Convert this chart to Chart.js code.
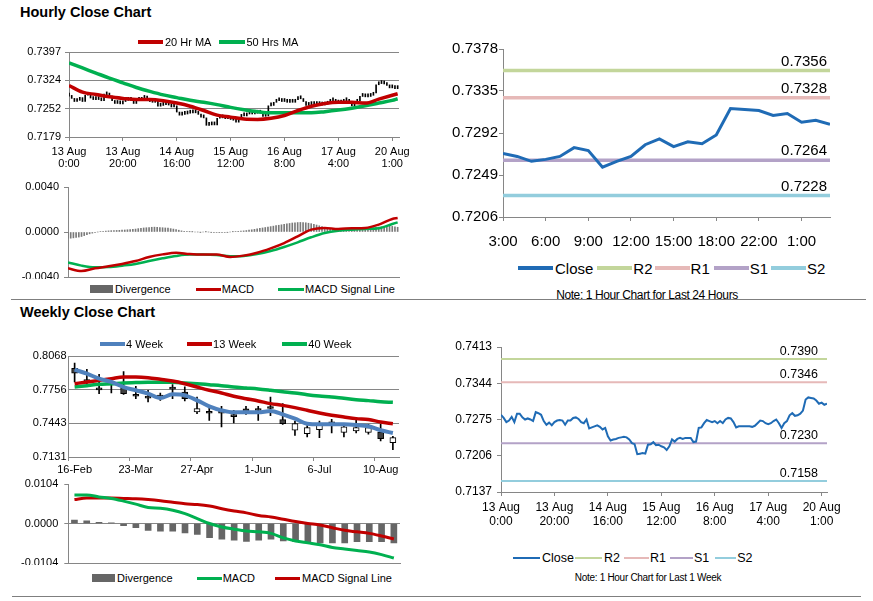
<!DOCTYPE html>
<html><head><meta charset="utf-8">
<script src="https://cdn.jsdelivr.net/npm/chart.js@4.4.0/dist/chart.umd.min.js"></script>
<style>
body{margin:0;width:873px;height:601px;background:#fff;position:relative;overflow:hidden;font-family:"Liberation Sans",Arial,sans-serif;color:#000;}
canvas{position:absolute;}
.title{position:absolute;font-weight:bold;font-size:14.5px;line-height:17px;white-space:nowrap;}
.sep{position:absolute;height:1px;background:#7f7f7f;}
.legend{position:absolute;display:flex;align-items:center;white-space:nowrap;height:16px;}
.note{position:absolute;white-space:nowrap;transform:translateX(-50%);}
</style>
</head><body>
<div class="title" style="left:20px;top:4px">Hourly Close Chart</div>
<div class="title" style="left:20px;top:304px">Weekly Close Chart</div>
<div class="sep" style="left:11px;top:299px;width:855px"></div>
<div class="sep" style="left:12px;top:596px;width:849px"></div>
<div class="note" style="left:647px;top:288px;font-size:12px;letter-spacing:-0.4px">Note: 1 Hour Chart for Last 24 Hours</div>
<div class="note" style="left:648px;top:572px;font-size:10px;letter-spacing:-0.3px">Note: 1 Hour Chart for Last 1 Week</div>
<script>
// ---------------- DATA ----------------
// hourly tick labels (13 Aug 0:00 ... 20 Aug 1:00), every 20 hours
const hourTickPos = [0, 20, 40, 60, 80, 100, 120];
const hourTickLabels = [["13 Aug","0:00"],["13 Aug","20:00"],["14 Aug","16:00"],["15 Aug","12:00"],["16 Aug","8:00"],["17 Aug","4:00"],["20 Aug","1:00"]];

// hourly close, last 1 week (123 hours)
const hourlyClose = [
0.7284,0.7278,0.7270,0.7273,0.7280,0.7270,0.7286,0.7286,0.7279,0.7275,
0.7277,0.7275,0.7272,0.7289,0.7287,0.7284,0.7272,0.7265,0.7269,0.7264,
0.7270,0.7273,0.7274,0.7273,0.7265,0.7273,0.7273,0.7278,0.7279,0.7276,
0.7270,0.7268,0.7275,0.7258,0.7260,0.7262,0.7264,0.7261,0.7256,0.7259,
0.7243,0.7235,0.7237,0.7238,0.7240,0.7241,0.7242,0.7241,0.7237,0.7230,
0.7228,0.7209,0.7210,0.7211,0.7210,0.7227,0.7228,0.7232,0.7226,0.7227,
0.7224,0.7222,0.7217,0.7224,0.7237,0.7233,0.7238,0.7240,0.7238,0.7240,
0.7240,0.7240,0.7232,0.7233,0.7259,0.7260,0.7268,0.7274,0.7272,0.7270,
0.7272,0.7268,0.7272,0.7268,0.7275,0.7278,0.7277,0.7270,0.7260,0.7262,
0.7262,0.7262,0.7262,0.7262,0.7261,0.7263,0.7268,0.7273,0.7272,0.7268,
0.7266,0.7268,0.7272,0.7275,0.7268,0.7259,0.7268,0.7272,0.7283,0.7287,
0.7282,0.7283,0.7286,0.7292,0.7313,0.7317,0.7316,0.7315,0.7311,0.7305,
0.7307,0.7303,0.7305];

// moving averages / MACD read at these hour indices
const maIdx = [0,5,10,15,20,25,30,35,40,45,50,55,60,65,70,75,80,85,90,95,100,105,110,115,120,122];
const ma20 = [0.7311,0.7294,0.7288,0.7282,0.7278,0.7275,0.7275,0.7272,0.7266,0.7258,0.7247,0.7235,0.7230,0.7225,0.7224,0.7227,0.7234,0.7247,0.7258,0.7265,0.7268,0.7268,0.7266,0.7276,0.7286,0.7290];
const ma50 = [0.7369,0.7356,0.7343,0.7330,0.7318,0.7306,0.7296,0.7287,0.7280,0.7273,0.7268,0.7262,0.7255,0.7249,0.7244,0.7241,0.7241,0.7241,0.7241,0.7244,0.7248,0.7253,0.7259,0.7266,0.7273,0.7277];
const macdH = [-0.00323,-0.00347,-0.00323,-0.00305,-0.00284,-0.00258,-0.00222,-0.00199,-0.00184,-0.00196,-0.00201,-0.00201,-0.00222,-0.00210,-0.00184,-0.00145,-0.00098,-0.00039,0.00021,0.00036,0.00027,0.00033,0.00036,0.00065,0.00116,0.00124];
const signalH = [-0.00270,-0.00299,-0.00314,-0.00311,-0.00299,-0.00284,-0.00258,-0.00234,-0.00213,-0.00201,-0.00201,-0.00204,-0.00216,-0.00213,-0.00196,-0.00169,-0.00133,-0.00092,-0.00047,-0.00009,0.00012,0.00021,0.00027,0.00033,0.00071,0.00086];
const divH = [
-0.00055,-0.00055,-0.00052,-0.00048,-0.00045,-0.00040,-0.00032,-0.00024,-0.00016,-0.00010,
-0.00005,0.00000,0.00004,0.00006,0.00008,0.00010,0.00012,0.00013,0.00014,0.00015,
0.00016,0.00018,0.00020,0.00022,0.00024,0.00026,0.00030,0.00033,0.00036,0.00038,
0.00040,0.00042,0.00043,0.00042,0.00040,0.00038,0.00036,0.00034,0.00030,0.00026,
0.00022,0.00016,0.00010,0.00006,0.00003,0.00002,0.00001,0.00000,0.00000,-0.00001,
0.00000,0.00001,0.00000,-0.00002,-0.00004,-0.00005,-0.00006,-0.00005,-0.00004,-0.00002,
0.00000,0.00002,0.00004,0.00006,0.00008,0.00010,0.00013,0.00016,0.00020,0.00024,
0.00028,0.00032,0.00036,0.00040,0.00044,0.00048,0.00052,0.00056,0.00060,0.00064,
0.00068,0.00072,0.00076,0.00080,0.00082,0.00084,0.00085,0.00084,0.00082,0.00078,
0.00074,0.00068,0.00062,0.00055,0.00048,0.00040,0.00034,0.00028,0.00024,0.00020,
0.00016,0.00014,0.00012,0.00012,0.00012,0.00013,0.00014,0.00016,0.00018,0.00020,
0.00024,0.00028,0.00032,0.00036,0.00040,0.00044,0.00046,0.00048,0.00050,0.00052,
0.00050,0.00046,0.00042];

// last 24 hours
const hours24 = ["3:00","4:00","5:00","6:00","7:00","8:00","9:00","10:00","11:00","12:00","13:00","14:00","15:00","16:00","17:00","18:00","19:00","20:00","22:00","23:00","0:00","1:00","2:00","3:00"];
const close24 = [0.7271,0.7268,0.7263,0.7265,0.7268,0.7277,0.7274,0.7257,0.7263,0.7268,0.7280,0.7286,0.7278,0.7283,0.7281,0.7290,0.7317,0.7316,0.7315,0.7310,0.7312,0.7303,0.7305,0.7301];
const levels24 = {R2:0.7356, R1:0.7328, S1:0.7264, S2:0.7228};
const levelsWeek = {R2:0.7390, R1:0.7346, S1:0.7230, S2:0.7158};

// weekly
const weekLabels = ["16-Feb","23-Feb","2-Mar","9-Mar","16-Mar","23-Mar","30-Mar","6-Apr","13-Apr","20-Apr","27-Apr","4-May","11-May","18-May","25-May","1-Jun","8-Jun","15-Jun","22-Jun","29-Jun","6-Jul","13-Jul","20-Jul","27-Jul","3-Aug","10-Aug","17-Aug"];
const weekOpen  = [0.7954,0.7849,0.7760,0.7804,0.7774,0.7699,0.7681,0.7690,0.7764,0.7734,0.7549,0.7541,0.7541,0.7510,0.7577,0.7566,0.7585,0.7478,0.7379,0.7348,0.7385,0.7443,0.7360,0.7373,0.7360,0.7363,0.7264];
const weekHigh  = [0.8003,0.7944,0.7898,0.7842,0.7923,0.7787,0.7750,0.7725,0.7802,0.7781,0.7688,0.7595,0.7601,0.7564,0.7601,0.7601,0.7688,0.7626,0.7465,0.7422,0.7465,0.7481,0.7441,0.7471,0.7434,0.7434,0.7323];
const weekLow   = [0.7827,0.7811,0.7719,0.7725,0.7712,0.7672,0.7641,0.7657,0.7672,0.7651,0.7533,0.7471,0.7410,0.7447,0.7527,0.7471,0.7515,0.7434,0.7332,0.7317,0.7311,0.7354,0.7317,0.7354,0.7342,0.7280,0.7199];
const weekClose = [0.7908,0.7830,0.7754,0.7800,0.7719,0.7695,0.7677,0.7686,0.7760,0.7672,0.7580,0.7537,0.7537,0.7506,0.7546,0.7562,0.7581,0.7441,0.7441,0.7403,0.7434,0.7439,0.7410,0.7403,0.7403,0.7301,0.7311];
const ma4w  = [0.7941,0.7904,0.7858,0.7827,0.7780,0.7750,0.7719,0.7678,0.7712,0.7703,0.7657,0.7601,0.7564,0.7545,0.7545,0.7545,0.7558,0.7527,0.7487,0.7440,0.7434,0.7434,0.7434,0.7428,0.7416,0.7379,0.7354];
const ma13w = [0.7811,0.7827,0.7842,0.7858,0.7873,0.7873,0.7867,0.7852,0.7836,0.7811,0.7780,0.7750,0.7725,0.7694,0.7672,0.7651,0.7626,0.7610,0.7589,0.7564,0.7539,0.7518,0.7502,0.7487,0.7478,0.7456,0.7440];
const ma40w = [0.7780,0.7793,0.7805,0.7811,0.7818,0.7821,0.7824,0.7824,0.7824,0.7818,0.7811,0.7802,0.7793,0.7780,0.7771,0.7762,0.7750,0.7737,0.7725,0.7709,0.7697,0.7688,0.7675,0.7663,0.7654,0.7644,0.7638];
const divW    = [0.0009,0.0007,0.0003,0.0002,-0.0006,-0.0011,-0.0018,-0.0020,-0.0020,-0.0025,-0.0029,-0.0037,-0.0041,-0.0044,-0.0047,-0.0044,-0.0041,-0.0046,-0.0048,-0.0050,-0.0051,-0.0051,-0.0051,-0.0048,-0.0048,-0.0048,-0.0051];
const macdW   = [0.0075,0.0075,0.0070,0.0066,0.0059,0.0051,0.0042,0.0040,0.0035,0.0026,0.0013,0.0000,-0.0009,-0.0015,-0.0020,-0.0022,-0.0026,-0.0038,-0.0046,-0.0051,-0.0056,-0.0063,-0.0067,-0.0071,-0.0075,-0.0082,-0.0091];
const signalW = [0.0063,0.0067,0.0067,0.0067,0.0066,0.0065,0.0063,0.0060,0.0056,0.0052,0.0050,0.0046,0.0039,0.0033,0.0028,0.0021,0.0017,0.0011,0.0005,0.0000,-0.0004,-0.0011,-0.0018,-0.0022,-0.0026,-0.0033,-0.0041];

// axis tick values
const yTicksA = [0.7179,0.7252,0.7324,0.7397];
const yTicksB = [-0.004,0,0.004];
const yTicksC = [0.7206,0.7249,0.7292,0.7335,0.7378];
const yTicksD = [0.7131,0.7443,0.7756,0.8068];
const yTicksE = [-0.0104,0,0.0104];
const yTicksF = [0.7137,0.7206,0.7275,0.7344,0.7413];

// ---------------- STYLE ----------------
const GRID = '#868686';
const RED = '#C00000', GREEN = '#00B050', BLUE4 = '#4F81BD', CLOSEBLUE = '#1F6BB5', DIVGRAY = '#666666';
const LVLC = {R2:'#C3D69B', R1:'#E6B9B8', S1:'#B3A2C7', S2:'#93CDDD'};
const FONT = '"Liberation Sans", Arial, sans-serif';

Chart.defaults.font.family = FONT;
Chart.defaults.color = '#000';
Chart.defaults.animation = false;
Chart.defaults.responsive = false;
Chart.defaults.plugins.legend.display = false;
Chart.defaults.plugins.tooltip.enabled = false;
Chart.defaults.elements.point.radius = 0;

function mkCanvas(left, top, w, h){
  const c = document.createElement('canvas');
  c.width = w; c.height = h;
  c.style.left = left + 'px'; c.style.top = top + 'px';
  c.style.width = w + 'px'; c.style.height = h + 'px';
  document.body.appendChild(c);
  return c;
}
function fixedTicks(vals){ return s => { s.ticks = vals.map(v => ({value: v})); }; }
function fitY(w){ return s => { s.width = w; s.paddingTop = 0; s.paddingBottom = 0; }; }
function fitX(h){ return s => { s.height = h; s.paddingLeft = 0; s.paddingRight = 0; }; }
const hourTickCb = v => { const k = hourTickPos.indexOf(v); return k >= 0 ? hourTickLabels[k] : ''; };
const fmt4 = v => Number(v).toFixed(4);

function legend(left, cy, size, items){
  const d = document.createElement('div');
  d.className = 'legend';
  d.style.left = left + 'px'; d.style.top = (cy - 8) + 'px'; d.style.fontSize = size + 'px';
  items.forEach(it => {
    const m = document.createElement('span');
    m.style.display = 'inline-block';
    m.style.width = it.w + 'px'; m.style.height = it.t + 'px';
    m.style.background = it.color; m.style.marginRight = (it.g1 || 1) + 'px';
    const t = document.createElement('span');
    t.textContent = it.label; t.style.marginRight = (it.g2 || 0) + 'px';
    d.appendChild(m); d.appendChild(t);
  });
  document.body.appendChild(d);
}

const levelLabelPlugin = {
  id: 'levelLabels',
  afterDatasetsDraw(chart, args, opts){
    const {ctx, chartArea} = chart; const y = chart.scales.y;
    ctx.save();
    ctx.font = opts.size + 'px ' + FONT;
    ctx.fillStyle = '#000'; ctx.textAlign = 'right'; ctx.textBaseline = 'middle';
    chart.data.datasets.forEach(ds => {
      if (ds.levelText) ctx.fillText(ds.levelText, chartArea.right - opts.dx, y.getPixelForValue(ds.data[0].y) - opts.dy);
    });
    ctx.restore();
  }
};

// ---------------- A: hourly close with MAs ----------------
const hourlyBars = hourlyClose.map((c, i) => ({x: i, y: [i > 0 ? hourlyClose[i-1] : c, c]}));
new Chart(mkCanvas(0, 45, 420, 127), {
  type: 'bar',
  data: {datasets: [
    {type:'line', label:'20 Hr MA', data: maIdx.map((x,k)=>({x, y: ma20[k]})), borderColor: RED, borderWidth: 3.5, cubicInterpolationMode:'monotone'},
    {type:'line', label:'50 Hrs MA', data: maIdx.map((x,k)=>({x, y: ma50[k]})), borderColor: GREEN, borderWidth: 3.5, cubicInterpolationMode:'monotone'},
    {type:'bar', label:'Close', data: hourlyBars, backgroundColor:'#000', barThickness: 1, minBarLength: 3}
  ]},
  options: {
    layout: {padding: {top: 7, right: 21, bottom: 0, left: 0}},
    scales: {
      x: {type:'linear', min: 0, max: 122.5, offset: false, afterBuildTicks: fixedTicks(hourTickPos),
          ticks: {callback: hourTickCb, font: {size: 11, lineHeight: 1.1}, padding: 5, maxRotation: 0, autoSkip: false},
          grid: {offset: false, drawOnChartArea: false, tickLength: 4, color: GRID}, border: {color: GRID},
          afterFit: fitX(35)},
      y: {min: 0.7179, max: 0.7397, afterBuildTicks: fixedTicks(yTicksA),
          ticks: {callback: fmt4, font: {size: 11}, padding: 4},
          grid: {color: GRID, tickLength: 4}, border: {color: GRID},
          afterFit: fitY(69)}
    }
  }
});
legend(138, 42, 11, [
  {label:'20 Hr MA', color: RED, w: 25, t: 3.5, g1: 2, g2: 8},
  {label:'50 Hrs MA', color: GREEN, w: 26, t: 3.5, g1: 1}
]);

// ---------------- B: hourly MACD ----------------
new Chart(mkCanvas(0, 180, 420, 99), {
  type: 'bar',
  data: {datasets: [
    {type:'line', label:'MACD', data: maIdx.map((x,k)=>({x, y: macdH[k]})), borderColor: RED, borderWidth: 2.5, cubicInterpolationMode:'monotone'},
    {type:'line', label:'MACD Signal Line', data: maIdx.map((x,k)=>({x, y: signalH[k]})), borderColor: GREEN, borderWidth: 2.5, cubicInterpolationMode:'monotone'},
    {type:'bar', label:'Divergence', data: divH.map((v,i)=>({x: i, y: v})), backgroundColor: '#7a7a7a', barThickness: 1}
  ]},
  options: {
    layout: {padding: {top: 7, right: 21, bottom: 0, left: 0}},
    scales: {
      x: {type:'linear', min: 0, max: 122.5, offset: false, ticks: {display: false},
          grid: {display: false, offset: false}, border: {color: GRID},
          afterFit: fitX(2)},
      y: {min: -0.004, max: 0.004, afterBuildTicks: fixedTicks(yTicksB),
          ticks: {callback: fmt4, font: {size: 11}, padding: 5},
          grid: {drawOnChartArea: false, tickLength: 4, color: GRID}, border: {color: GRID},
          afterFit: fitY(68)}
    }
  }
});
legend(90, 289, 11, [
  {label:'Divergence', color: DIVGRAY, w: 23, t: 8, g1: 2, g2: 25},
  {label:'MACD', color: RED, w: 25, t: 3, g1: 1, g2: 24},
  {label:'MACD Signal Line', color: GREEN, w: 26, t: 3, g1: 1}
]);

// ---------------- C: last 24 hours ----------------
function levelSets(levels, lastX, width){
  return ['R2','R1','S1','S2'].map(k => ({type:'line', label: k, levelText: fmt4(levels[k]),
    data: [{x: 0, y: levels[k]}, {x: lastX, y: levels[k]}], borderColor: LVLC[k], borderWidth: width}));
}
new Chart(mkCanvas(420, 40, 430, 212), {
  type: 'line',
  data: {datasets: [
    {label:'Close', data: close24.map((v,i)=>({x: i, y: v})), borderColor: CLOSEBLUE, borderWidth: 3},
    ...levelSets(levels24, hours24.length - 1, 3.5)
  ]},
  plugins: [levelLabelPlugin],
  options: {
    layout: {padding: {top: 9, right: 20, bottom: 0, left: 0}},
    plugins: {levelLabels: {size: 15, dx: 3, dy: 9}},
    scales: {
      x: {type:'linear', min: 0, max: hours24.length - 1, afterBuildTicks: fixedTicks([0,3,6,9,12,15,18,21]),
          ticks: {callback: v => hours24[v], font: {size: 15}, padding: 12, maxRotation: 0, autoSkip: false},
          grid: {drawOnChartArea: false, tickLength: 4, color: GRID}, border: {color: GRID},
          afterFit: fitX(35)},
      y: {min: 0.7206, max: 0.7378, afterBuildTicks: fixedTicks(yTicksC),
          ticks: {callback: fmt4, font: {size: 15}, padding: 1},
          grid: {drawOnChartArea: false, tickLength: 4, color: GRID}, border: {color: GRID},
          afterFit: fitY(83)}
    }
  }
});
legend(518, 268, 15, [
  {label:'Close', color: CLOSEBLUE, w: 35, t: 4, g1: 2, g2: 4},
  {label:'R2', color: LVLC.R2, w: 35, t: 4, g1: 1, g2: 2},
  {label:'R1', color: LVLC.R1, w: 35, t: 4, g1: 1, g2: 4},
  {label:'S1', color: LVLC.S1, w: 35, t: 4, g1: 1, g2: 3},
  {label:'S2', color: LVLC.S2, w: 35, t: 4, g1: 1}
]);

// ---------------- D: weekly candles ----------------
new Chart(mkCanvas(0, 348, 420, 129), {
  type: 'bar',
  data: {labels: weekLabels, datasets: [
    {type:'line', label:'4 Week', data: ma4w, borderColor: BLUE4, borderWidth: 4, cubicInterpolationMode:'monotone'},
    {type:'line', label:'13 Week', data: ma13w, borderColor: RED, borderWidth: 3.5, cubicInterpolationMode:'monotone'},
    {type:'line', label:'40 Week', data: ma40w, borderColor: GREEN, borderWidth: 3.5, cubicInterpolationMode:'monotone'},
    {type:'bar', label:'Body', data: weekOpen.map((o,i)=>[o, weekClose[i]]), grouped: false, barThickness: 6, minBarLength: 2,
     backgroundColor: c => weekClose[c.dataIndex] < weekOpen[c.dataIndex] ? '#404040' : '#ffffff',
     borderColor: '#000', borderWidth: 1, borderSkipped: false},
    {type:'bar', label:'Range', data: weekLow.map((l,i)=>[l, weekHigh[i]]), grouped: false, barThickness: 1, backgroundColor: '#000'}
  ]},
  options: {
    layout: {padding: {top: 8, right: 21, bottom: 0, left: 0}},
    scales: {
      x: {offset: true, ticks: {callback: (v, i) => i % 5 === 0 ? weekLabels[i] : '', font: {size: 11}, padding: 2, maxRotation: 0, autoSkip: false},
          grid: {offset: true, drawOnChartArea: false, tickLength: 4, tickColor: c => c.index % 5 === 0 ? GRID : 'rgba(0,0,0,0)'},
          border: {color: GRID}, afterFit: fitX(20)},
      y: {min: 0.7131, max: 0.8068, afterBuildTicks: fixedTicks(yTicksD),
          ticks: {callback: fmt4, font: {size: 11}, padding: 2},
          grid: {color: GRID, drawTicks: false}, border: {color: GRID},
          afterFit: fitY(68.5)}
    }
  }
});
legend(100, 344, 11, [
  {label:'4 Week', color: BLUE4, w: 25, t: 4, g1: 1, g2: 24},
  {label:'13 Week', color: RED, w: 25, t: 4, g1: 1, g2: 26},
  {label:'40 Week', color: GREEN, w: 25, t: 4, g1: 1}
]);

// ---------------- E: weekly MACD ----------------
new Chart(mkCanvas(0, 477, 420, 88), {
  type: 'bar',
  data: {labels: weekLabels, datasets: [
    {type:'line', label:'MACD', data: macdW, borderColor: GREEN, borderWidth: 3, cubicInterpolationMode:'monotone'},
    {type:'line', label:'MACD Signal Line', data: signalW, borderColor: RED, borderWidth: 3, cubicInterpolationMode:'monotone'},
    {type:'bar', label:'Divergence', data: divW, backgroundColor: DIVGRAY, barThickness: 6}
  ]},
  options: {
    layout: {padding: {top: 7, right: 20, bottom: 0, left: 0}},
    scales: {
      x: {offset: true, ticks: {display: false}, grid: {display: false}, border: {color: GRID},
          afterFit: fitX(2)},
      y: {min: -0.0104, max: 0.0104, afterBuildTicks: fixedTicks(yTicksE),
          ticks: {callback: fmt4, font: {size: 11}, padding: 6},
          grid: {color: c => (c.tick && c.tick.value === 0) ? GRID : 'rgba(0,0,0,0)', tickColor: GRID, tickLength: 4},
          border: {color: GRID}, afterFit: fitY(68.3)}
    }
  }
});
legend(92, 578, 11, [
  {label:'Divergence', color: DIVGRAY, w: 23, t: 8, g1: 2, g2: 24},
  {label:'MACD', color: GREEN, w: 25, t: 3, g1: 1, g2: 20},
  {label:'MACD Signal Line', color: RED, w: 25, t: 3, g1: 2}
]);

// ---------------- F: 1 week hourly close ----------------
new Chart(mkCanvas(420, 338, 440, 194), {
  type: 'line',
  data: {datasets: [
    {label:'Close', data: hourlyClose.map((v,i)=>({x: i, y: v})), borderColor: CLOSEBLUE, borderWidth: 2},
    ...levelSets(levelsWeek, hourlyClose.length - 1, 2)
  ]},
  plugins: [levelLabelPlugin],
  options: {
    layout: {padding: {top: 9, right: 33, bottom: 0, left: 0}},
    plugins: {levelLabels: {size: 12.5, dx: 9, dy: 7.5}},
    scales: {
      x: {type:'linear', min: 0, max: hourlyClose.length - 1, afterBuildTicks: fixedTicks(hourTickPos),
          ticks: {callback: hourTickCb, font: {size: 12, lineHeight: 1.2}, padding: 4, maxRotation: 0, autoSkip: false},
          grid: {drawOnChartArea: false, tickLength: 4, color: GRID}, border: {color: GRID},
          afterFit: fitX(40)},
      y: {min: 0.7137, max: 0.7413, afterBuildTicks: fixedTicks(yTicksF),
          ticks: {callback: fmt4, font: {size: 12}, padding: 5},
          grid: {drawOnChartArea: false, tickLength: 4, color: GRID}, border: {color: GRID},
          afterFit: fitY(81)}
    }
  }
});
legend(513, 558, 12.5, [
  {label:'Close', color: CLOSEBLUE, w: 27, t: 2.5, g1: 2, g2: 1},
  {label:'R2', color: LVLC.R2, w: 27, t: 2, g1: 2, g2: 4},
  {label:'R1', color: LVLC.R1, w: 25, t: 2, g1: 1, g2: 4},
  {label:'S1', color: LVLC.S1, w: 23, t: 2, g1: 1, g2: 6},
  {label:'S2', color: LVLC.S2, w: 21, t: 2, g1: 1}
]);
</script>
</body></html>
